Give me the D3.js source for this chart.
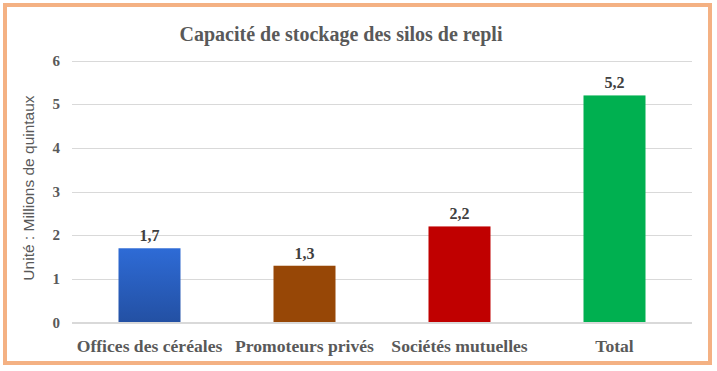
<!DOCTYPE html>
<html><head><meta charset="utf-8">
<script src="https://cdn.jsdelivr.net/npm/d3@7"></script>
<style>body{margin:0;background:#fff}svg{display:block}</style>
</head><body>
<svg id="c" width="717" height="371"></svg>
<script>
const categories = ["Offices des céréales", "Promoteurs privés", "Sociétés mutuelles", "Total"];
const values = [1.7, 1.3, 2.2, 5.2];
const valueLabels = ["1,7", "1,3", "2,2", "5,2"];
const yTicks = [0, 1, 2, 3, 4, 5, 6];
const colors = ["url(#blueGrad)", "#974706", "#C00000", "#00B050"];
const title = "Capacité de stockage des silos de repli";
const yTitle = "Unité : Millions de quintaux";

const SERIF = "'Liberation Serif', 'Times New Roman', serif";
const svg = d3.select("#c");
const defs = svg.append("defs");
const g1 = defs.append("linearGradient").attr("id","blueGrad").attr("x1",0).attr("y1",0).attr("x2",0).attr("y2",1);
g1.append("stop").attr("offset","0%").attr("stop-color","#2E6BD6");
g1.append("stop").attr("offset","100%").attr("stop-color","#2350A3");

// frame
svg.append("rect").attr("x",5).attr("y",5).attr("width",705).attr("height",358)
  .attr("fill","#fff").attr("stroke","#F4B183").attr("stroke-width",4);

const m = {left:72, right:692, top:60.5, bottom:322.5};
const x = d3.scaleBand().domain(categories).range([m.left, m.right]).paddingInner(0.6).paddingOuter(0.3);
const y = d3.scaleLinear().domain([0,6]).range([m.bottom, m.top]);

// gridlines
svg.append("g").selectAll("line").data(yTicks.filter(d=>d>0)).join("line")
  .attr("x1",m.left).attr("x2",m.right).attr("y1",d=>Math.round(y(d))+0.5).attr("y2",d=>Math.round(y(d))+0.5)
  .attr("stroke","#D9D9D9").attr("stroke-width",1);

// y axis labels
const yAxis = d3.axisLeft(y).tickValues(yTicks).tickSize(0).tickPadding(0).tickFormat(d3.format("d"));
const ya = svg.append("g").attr("transform",`translate(${m.left-12},0)`).call(yAxis);
ya.select(".domain").remove();
ya.selectAll("text").attr("font-family",SERIF).attr("font-weight","bold")
  .attr("font-size",15).attr("fill","#595959");

// bars
svg.append("g").selectAll("rect").data(values).join("rect")
  .attr("x",(d,i)=>x(categories[i])).attr("width",x.bandwidth())
  .attr("y",d=>y(d)).attr("height",d=>y(0)-y(d))
  .attr("fill",(d,i)=>colors[i]);

// baseline
svg.append("line").attr("x1",m.left).attr("x2",m.right).attr("y1",y(0)+0.5).attr("y2",y(0)+0.5)
  .attr("stroke","#D9D9D9").attr("stroke-width",2);

// value labels
svg.append("g").selectAll("text").data(values).join("text")
  .attr("x",(d,i)=>x(categories[i])+x.bandwidth()/2).attr("y",d=>y(d)-7)
  .attr("text-anchor","middle").attr("font-family",SERIF).attr("font-weight","bold")
  .attr("font-size",16).attr("fill","#404040").text((d,i)=>valueLabels[i]);

// x axis labels
const xAxis = d3.axisBottom(x).tickSize(0).tickPadding(0);
const xa = svg.append("g").attr("transform",`translate(0,${m.bottom+29})`).call(xAxis);
xa.select(".domain").remove();
xa.selectAll("text").attr("dy",0).attr("font-family",SERIF).attr("font-weight","bold")
  .attr("font-size",17.6).attr("fill","#595959");

// title
svg.append("text").attr("x",341).attr("y",41).attr("text-anchor","middle")
  .attr("font-family",SERIF).attr("font-weight","bold").attr("font-size",20)
  .attr("fill","#595959").text(title);

// y title
svg.append("text").attr("transform",`translate(34,188) rotate(-90)`)
  .attr("text-anchor","middle").attr("font-family","'Liberation Sans', Arial, sans-serif")
  .attr("font-size",15.5).attr("fill","#595959").text(yTitle);
</script>
</body></html>
